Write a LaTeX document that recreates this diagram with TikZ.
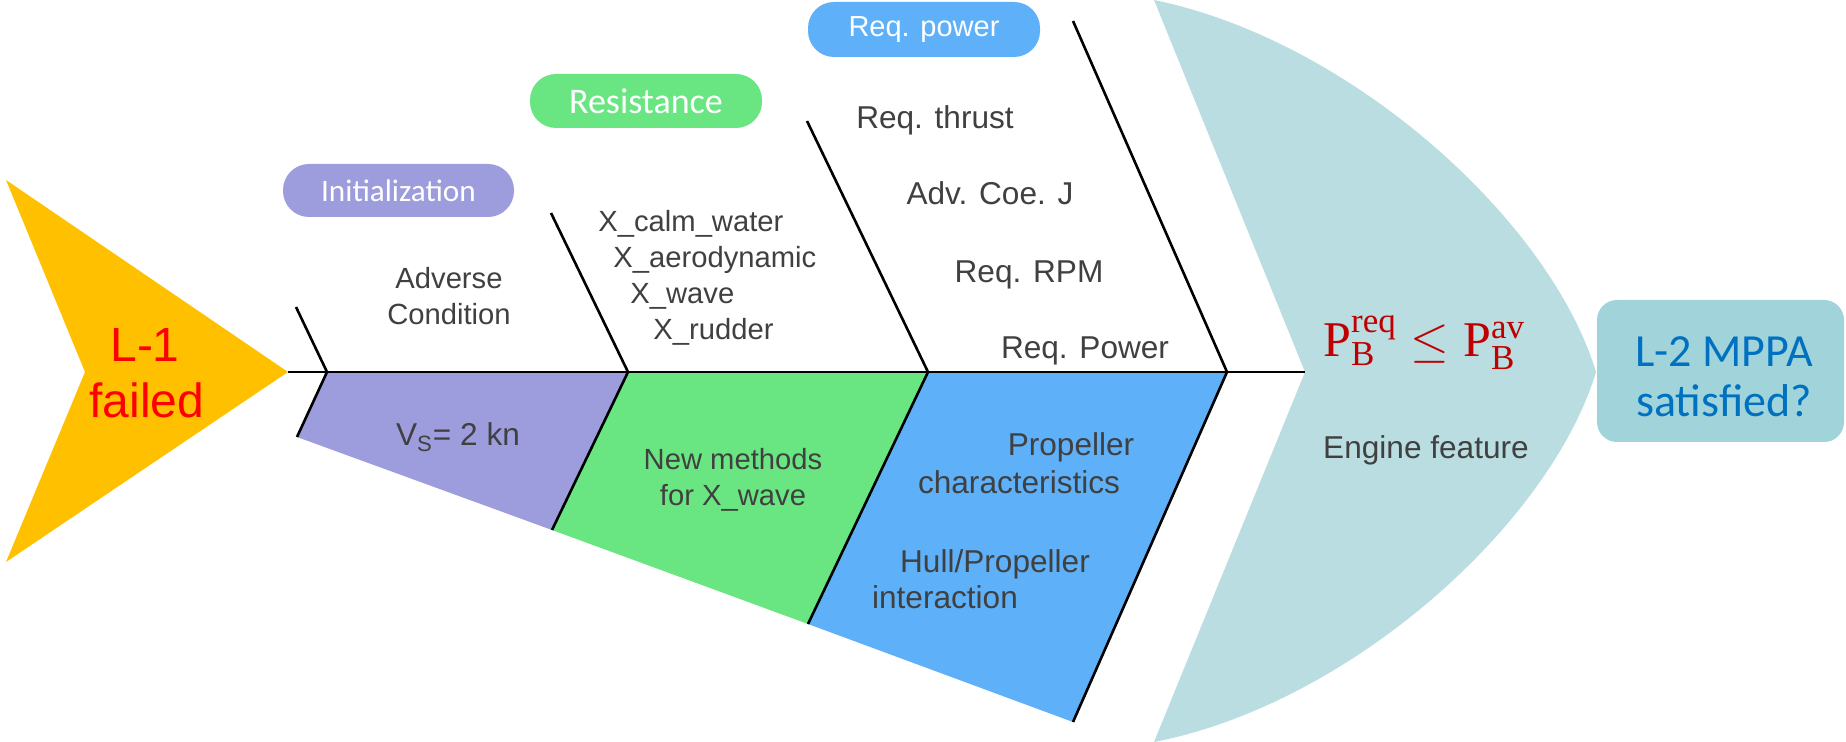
\documentclass[tikz,border=0pt]{standalone}
\usepackage{fontspec}
\setmainfont{Liberation Sans}
\setmathrm{Liberation Serif}
\newfontfamily\calibri{Carlito}
\definecolor{cyellow}{HTML}{FFC000}
\definecolor{cpurple}{HTML}{9D9CDD}
\definecolor{cgreen}{HTML}{69E682}
\definecolor{cblue}{HTML}{5EB0F8}
\definecolor{cteal}{HTML}{B9DDE1}
\definecolor{cbox}{HTML}{A0D4DA}
\definecolor{ctext}{HTML}{404040}
\definecolor{cred}{HTML}{FF0000}
\definecolor{cdred}{HTML}{C00000}
\definecolor{cltwo}{HTML}{0070C0}
\begin{document}
\begin{tikzpicture}[x=0.5pt,y=-0.5pt,
  bone/.style={line width=1.3pt, black},
  lbl/.style={text=ctext, font=\fontsize{15.8}{19}\selectfont, inner sep=0pt, anchor=base},
  lblsm/.style={lbl, font=\fontsize{14.6}{17.5}\selectfont},
  pill/.style={rounded corners=13pt, minimum width=116pt, minimum height=27pt, text=white, inner sep=0pt}]
\useasboundingbox (0,0) rectangle (1846,742);
% coordinates
\coordinate (head) at (288,372);
\coordinate (tailn) at (1305,372);
\coordinate (tailtop) at (1154,0);
\coordinate (tailbot) at (1154,742);
\coordinate (tailtip) at (1596,372);
\coordinate (t1) at (296,307); \coordinate (j1) at (327,372); \coordinate (b1) at (297,437);
\coordinate (t2) at (551,213); \coordinate (j2) at (628,372); \coordinate (b2) at (552,530);
\coordinate (t3) at (807,121); \coordinate (j3) at (928,372); \coordinate (b3) at (808,624);
\coordinate (t4) at (1073,21); \coordinate (j4) at (1227,372); \coordinate (b4) at (1073,722);
% tail
\fill[cteal] (tailtop) .. controls (1350,40) and (1550,220) .. (tailtip)
  .. controls (1550,524) and (1350,704) .. (tailbot) -- (tailn) -- cycle;
% result box
\node[fill=cbox, rounded corners=10pt, minimum width=123.5pt, minimum height=71pt, inner sep=0pt] (res) at (1720.5,371) {};
\node[text=cltwo, font=\calibri\fontsize{23}{27}\selectfont, anchor=base, inner sep=0pt] (l2a) at (1724,367) {L-2 MPPA};
\node[text=cltwo, font=\calibri\fontsize{23}{27}\selectfont, anchor=base, inner sep=0pt] (l2b) at (1724,417) {satisfied?};
% head chevron
\fill[cyellow] (6,180) -- (head) -- (6,562) -- (85,372) -- cycle;
\node[text=cred, font=\fontsize{24}{28}\selectfont, anchor=base, inner sep=0pt] (l1a) at (145,362) {L-1};
\node[text=cred, font=\fontsize{24}{28}\selectfont, anchor=base, inner sep=0pt] (l1b) at (147,418) {failed};
% segments
\fill[cpurple] (j1) -- (j2) -- (b2) -- (b1) -- cycle;
\fill[cgreen] (j2) -- (j3) -- (b3) -- (b2) -- cycle;
\fill[cblue] (j3) -- (j4) -- (b4) -- (b3) -- cycle;
% spine and bones
\draw[bone] (head) -- (tailn);
\draw[bone] (t1) -- (j1) -- (b1);
\draw[bone] (t2) -- (j2) -- (b2);
\draw[bone] (t3) -- (j3) -- (b3);
\draw[bone] (t4) -- (j4) -- (b4);
% pills
\node[pill, fill=cpurple, font=\calibri\fontsize{15.6}{18}\selectfont, minimum width=115.5pt, minimum height=26.5pt] (pinit) at (398.5,190.5) {Initialization};
\node[pill, fill=cgreen, font=\calibri\fontsize{18}{21}\selectfont] (pres) at (646,101) {Resistance};
\node[pill, fill=cblue, font=\fontsize{14.5}{17}\selectfont, minimum height=27.5pt] (ppow) at (924,29.5) {Req. power};
% labels
\node[lblsm] (adv1) at (449,289) {Adverse};
\node[lblsm] (adv2) at (449,325) {Condition};
\node[lbl] (vs) at (458,446) {V\textsubscript{S}= 2 kn};
\node[lblsm, anchor=base west] (x1) at (598,232) {X\_calm\_water};
\node[lblsm, anchor=base west] (x2) at (613,268) {X\_aerodynamic};
\node[lblsm, anchor=base west] (x3) at (630,304) {X\_wave};
\node[lblsm, anchor=base west] (x4) at (653,340) {X\_rudder};
\node[lblsm] (nm1) at (733,470) {New methods};
\node[lblsm] (nm2) at (733,506) {for X\_wave};
\node[lbl] (r1) at (935,129) {Req. thrust};
\node[lbl] (r2) at (990,205) {Adv. Coe. J};
\node[lbl] (r3) at (1029,283) {Req. RPM};
\node[lbl] (r4) at (1085,359) {Req. Power};
\node[lbl] (pc1) at (1071,456) {Propeller};
\node[lbl] (pc2) at (1019,494) {characteristics};
\node[lbl] (hp1) at (995,572) {Hull/Propeller};
\node[lbl] (hp2) at (945,608) {interaction};
\node[text=cdred, font=\fontsize{25}{29}\selectfont, anchor=base west, inner sep=0pt] (form) at (1323,357)
  {$\mathrm{P}_{\mathrm{B}}^{\mathrm{req}} \leq \mathrm{P}_{\mathrm{B}}^{\mathrm{av}}$};
\node[lbl] (eng) at (1426,459) {Engine feature};
\end{tikzpicture}
\end{document}
